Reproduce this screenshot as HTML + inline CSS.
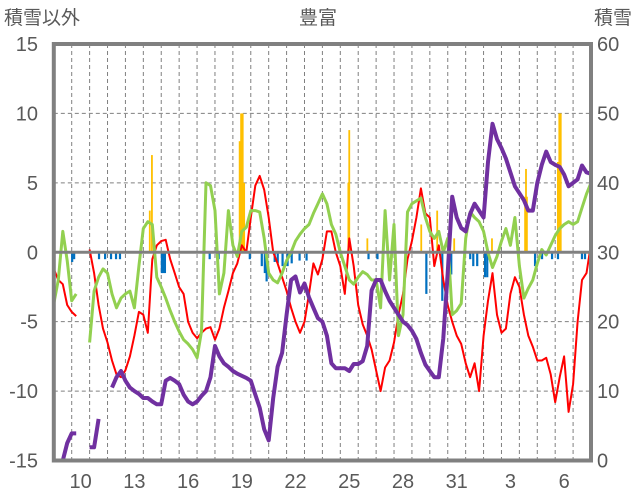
<!DOCTYPE html>
<html><head><meta charset="utf-8"><style>
html,body{margin:0;padding:0;background:#fff;}
svg{display:block;font-family:"Liberation Sans","Noto Sans CJK JP",sans-serif;}
</style></head><body>
<svg id="chart" width="636" height="501" viewBox="0 0 636 501" xmlns="http://www.w3.org/2000/svg">
<text x="4" y="24" font-size="19" fill="#595959">積雪以外</text>
<text x="318" y="24" font-size="19" fill="#595959" text-anchor="middle">豊富</text>
<text x="632" y="24" font-size="19" fill="#595959" text-anchor="end">積雪</text>
<g id="grid"></g>
<g id="bars"></g>
<g id="lines"></g>
<g id="axes"></g>
</svg>
<script>
const startDay = 9;
const nDays = 30;
const stepsPerDay = 4;
const leftTicks = [15, 10, 5, 0, -5, -10, -15];
const rightTicks = [60, 50, 40, 30, 20, 10, 0];
const xTickDays = [10, 13, 16, 19, 22, 25, 28, 31, 34, 37];
const xTickLabels = ["10", "13", "16", "19", "22", "25", "28", "31", "3", "6"];
const redSeries = [-1.2,-2,-2.3,-3.8,-4.3,-4.6,null,null,0.2,-1.5,-3.8,-5.5,-6.5,-7.8,-8.8,-9,-8.5,-7.5,-6,-4.3,-4.5,-5.8,-0.5,0.5,0.8,0.9,-0.5,-1.5,-2.5,-3,-5,-5.8,-6.2,-5.8,-5.5,-5.4,-6.3,-5.5,-4,-2.8,-1.5,-0.8,0.5,0,2.5,4.8,5.5,4.5,2.5,0,-0.8,-1.8,-2.8,-4,-5,-5.8,-5,-3,-0.8,-1.6,-0.5,1.5,1.5,0,-1,-3,1,-1,-3.8,-5.2,-6,-7,-8.5,-10,-8.3,-7.8,-6.5,-4.5,-3,-0.5,0.8,2.5,4.6,2.8,2.5,-1,0.5,-2,-3.8,-5,-6,-6.6,-8,-9,-8,-10,-6,-3.5,-1.5,-4.5,-5.8,-5.5,-3,-1.8,-2.5,-4.5,-6,-6.8,-7.8,-7.8,-7.6,-8.8,-10.8,-9,-7.5,-11.5,-9.5,-5,-2,-1.5,0.6];
const greenSeries = [-3.7,-2,1.5,-0.6,-3.5,-3,null,null,-6.5,-2.8,-1.8,-1.2,-1.5,-3,-4,-3.3,-3,-2.8,-4,-1,1.7,2.2,2,-1.8,-2.5,-3.3,-4.2,-5,-5.7,-6.3,-6.6,-7,-7.6,-5.7,5,4.8,3,-3,-1.5,3,0.5,-0.3,1.5,1.8,3,3,2.9,1,-1.5,-2,-2.2,-1.5,-0.6,0,0.8,1.3,1.7,2,2.8,3.5,4.2,3.5,2,1.3,0,-1,-2,-2.3,-1.8,-1.4,-1.6,-2,-2,-4,3,-2,2,-6,-4.5,2.9,3.5,3.7,3.9,2.5,1.5,1,1.5,0,1,-4.5,-4.2,-3.7,1,2.9,2.5,2.2,1.5,0,-1.1,-0.3,0.8,1.7,0.5,2.5,-1,-3.3,-2.6,-2,-0.8,0.2,-0.2,0.5,1.2,1.7,2,2.2,2,2.2,3.2,4.2,5];
const snowDepth = [0,0,0,2.5,3.9,3.9,null,null,1.9,1.9,6,null,null,10.5,12,12.9,11.5,10.5,10,9.6,9,9,8.5,8.1,8.1,11.5,11.9,11.5,11,9.5,8.5,8.1,8.5,9.3,10,12,16.5,15,14,13.5,12.9,12.5,12.2,11.9,11.5,9.5,7.6,4.5,2.9,9,13.5,15.5,21,26,26.5,24.2,25.5,23.5,22,20.5,20,18,14,13.3,13.3,13.3,12.9,13.9,13.9,14.3,16.5,24.5,26,26,24.4,23,22,21,20,19.5,18.7,17.5,15.5,13.8,12.9,12,12,17.6,27,38,35,33.5,33,35.5,37,36,35,43,48.5,46.3,45,43.5,41.5,39.5,38.5,37.5,36,36,40,42.6,44.5,43,42.6,42.3,41.2,39.5,40,40.5,42.5,41.5,41.3];
const orangeDays = [14.36,14.48,19.38,19.46,19.55,19.63,25.45,25.5,26.51,29.52,30.41,31.36,33.47,35.32,35.37,35.42,37.15,37.23,37.31];
const orangeValues = [3,7,8,10,10,5,5,8.8,1,2,3,1,1,4,6,4,6.5,10,10];
const blueDays = [10.02,10.13,11.52,11.86,12.19,12.47,12.69,15.03,15.12,15.2,17.7,18.2,19.94,20.61,20.78,20.88,21.33,21.5,21.77,22.05,22.28,22.72,23.11,26.57,27.07,29.8,30.69,31.19,32.25,32.42,32.64,33.08,33.2,35.87,36.26,36.82,37.15,38.49,38.66];
const blueValues = [-0.7,-0.5,-0.5,-0.5,-0.5,-0.5,-0.5,-1.5,-1.5,-1.5,-0.5,-0.5,-0.5,-1,-1.5,-2.1,-0.7,-0.8,-1,-1,-0.8,-0.6,-0.6,-0.5,-0.5,-3,-3.5,-1.6,-0.5,-1,-1,-1.8,-1.8,-1,-0.5,-0.5,-0.5,-0.5,-0.5];

const L = 53.8, R = 591, T = 44, B = 460.5;
const NS = "http://www.w3.org/2000/svg";
function xDay(d){ return L + (d - startDay) * (R - L) / nDays; }
function yL(v){ return T + (15 - v) * (B - T) / 30; }
function yR(v){ return T + (60 - v) * (B - T) / 60; }
function mk(tag, attrs, parent){
  const e = document.createElementNS(NS, tag);
  for (const k in attrs) e.setAttribute(k, attrs[k]);
  parent.appendChild(e); return e;
}
const grid = document.getElementById('grid');
const bars = document.getElementById('bars');
const lines = document.getElementById('lines');
const axes = document.getElementById('axes');

for (const v of leftTicks) {
  if (v === 15 || v === -15 || v === 0) continue;
  const g = mk('line', {x1:L, x2:R, y1:yL(v), y2:yL(v), stroke:'#808080', 'stroke-width':1, 'stroke-dasharray':'4,3'}, grid);
  
  
}
for (let d = startDay + 1; d < startDay + nDays; d++) {
  const g = mk('line', {x1:xDay(d), x2:xDay(d), y1:T, y2:B, stroke:'#808080', 'stroke-width':1, 'stroke-dasharray':'4,3'}, grid);
  
  
}
for (let i = 0; i < orangeDays.length; i++) {
  const y0 = yL(0), y1 = yL(orangeValues[i]);
  const b = mk('rect', {x:xDay(orangeDays[i]) - 0.9, y:y1, width:1.8, height:y0 - y1, fill:'#FFC000'}, bars);
  
  
}
for (let i = 0; i < blueDays.length; i++) {
  const y0 = yL(0), y1 = yL(blueValues[i]);
  const b = mk('rect', {x:xDay(blueDays[i]) - 1, y:y0, width:2.2, height:y1 - y0, fill:'#0070C0'}, bars);
  
  
}
function drawSeries(arr, yf, color, w, name){
  let d = '', pen = false;
  arr.forEach((v, i) => {
    if (v === null) { pen = false; return; }
    const x = xDay(startDay + i / stepsPerDay);
    d += (pen ? 'L' : 'M') + x.toFixed(1) + ',' + yf(v).toFixed(1);
    pen = true;
  });
  const p = mk('path', {d:d, fill:'none', stroke:color, 'stroke-width':w, 'stroke-linejoin':'round'}, lines);
  
  
}
drawSeries(redSeries, yL, '#FF0000', 2, 'red-series-line');
drawSeries(greenSeries, yL, '#92D050', 3, 'green-series-line');
drawSeries(snowDepth, yR, '#7030A0', 4, 'snow-depth-line');

const zl = mk('line', {x1:L, x2:R, y1:yL(0), y2:yL(0), stroke:'#808080', 'stroke-width':3}, axes);


const fr = mk('rect', {x:L, y:T, width:R - L, height:B - T, fill:'none', stroke:'#808080', 'stroke-width':4}, axes);


for (const v of leftTicks) {
  const t = mk('text', {x:38, y:yL(v) + 7, 'font-size':20, fill:'#595959', 'text-anchor':'end'}, axes);
  t.textContent = String(v);
  
  
}
for (const v of rightTicks) {
  const t = mk('text', {x:597, y:yR(v) + 7, 'font-size':20, fill:'#595959'}, axes);
  t.textContent = String(v);
  
  
}
xTickDays.forEach((d, i) => {
  const t = mk('text', {x:xDay(d + 0.5), y:488, 'font-size':20, fill:'#595959', 'text-anchor':'middle'}, axes);
  t.textContent = xTickLabels[i];
  
  
});
</script>
</body></html>
